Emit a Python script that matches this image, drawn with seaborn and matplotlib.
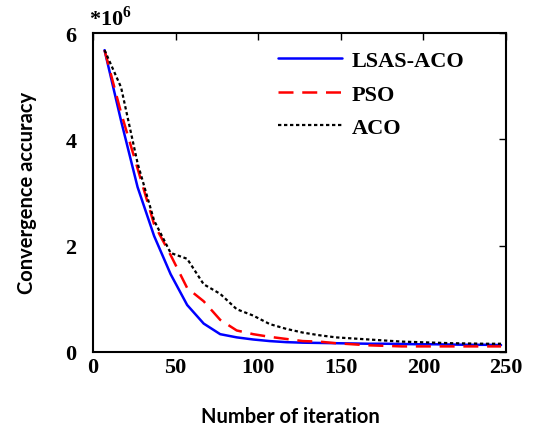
import matplotlib
matplotlib.use("Agg")
import matplotlib.pyplot as plt
import seaborn as sns
import pandas as pd

iterations = [7, 17, 27, 37, 47, 57, 67, 77, 87, 97, 107, 117, 127, 137, 147,
              157, 167, 177, 187, 197, 207, 217, 227, 237, 247]
lsas_aco = [5.68, 4.35, 3.10, 2.18, 1.46, 0.88, 0.53, 0.33, 0.27, 0.23, 0.20, 0.18,
            0.17, 0.165, 0.16, 0.155, 0.15, 0.15, 0.145, 0.14, 0.14, 0.135, 0.13, 0.13, 0.125]
pso = [5.68, 4.50, 3.45, 2.40, 1.82, 1.20, 0.95, 0.60, 0.40, 0.33, 0.28, 0.24,
       0.20, 0.19, 0.16, 0.14, 0.12, 0.11, 0.10, 0.10, 0.10, 0.10, 0.10, 0.10, 0.10]
aco = [5.68, 4.98, 3.55, 2.47, 1.86, 1.75, 1.27, 1.09, 0.80, 0.68, 0.52, 0.43,
       0.36, 0.31, 0.27, 0.25, 0.23, 0.21, 0.19, 0.18, 0.17, 0.16, 0.155, 0.15, 0.15]
series_names = ["LSAS-ACO", "PSO", "ACO"]
x_ticks = [0, 50, 100, 150, 200, 250]
y_ticks = [0, 2, 4, 6]

sns.set_style("white")
plt.rcParams["font.family"] = ["Liberation Serif", "DejaVu Serif"]
plt.rcParams["text.color"] = "black"
plt.rcParams["axes.labelcolor"] = "black"
plt.rcParams["mathtext.fontset"] = "custom"
plt.rcParams["mathtext.bf"] = "Liberation Serif:bold"
plt.rcParams["mathtext.rm"] = "Liberation Serif"

fig = plt.figure(figsize=(5.35, 4.27), dpi=100)
ax = fig.add_axes([0.1738, 0.174, 0.772, 0.746])

styles = [
    dict(color="#0000ff", linestyle="-", linewidth=1.8),
    dict(color="#ff0000", linestyle=(0, (6, 3.5)), linewidth=1.8),
    dict(color="black", linestyle=(0, (1.5, 1.2)), linewidth=1.6),
]
for name, vals, st in zip(series_names, [lsas_aco, pso, aco], styles):
    df = pd.DataFrame({"x": iterations, "y": vals})
    sns.lineplot(data=df, x="x", y="y", ax=ax, label=name, **st)

ax.set_xlim(0, 250)
ax.set_ylim(0, 6)
ax.set_xticks(x_ticks)
ax.set_yticks(y_ticks)
ax.set_xticklabels([str(t) for t in x_ticks], fontsize=16, fontweight="bold")
ax.set_yticklabels([str(t) for t in y_ticks], fontsize=16, fontweight="bold")
ax.tick_params(direction="in", length=5, width=1, top=True, right=True,
               colors="black", labelcolor="black")
ax.tick_params(axis="x", pad=4)
ax.tick_params(axis="y", pad=12)
for sp in ax.spines.values():
    sp.set_color("black")
    sp.set_linewidth(1.5)

ax.set_xlabel("Number of iteration", fontsize=14.5, fontweight="bold",
              family=["Lato", "DejaVu Sans"], labelpad=20.5)
ax.xaxis.label.set_x(0.477)
ax.set_ylabel("Convergence accuracy", fontsize=14.5, fontweight="bold",
              family=["Lato", "DejaVu Sans"], labelpad=20)

fig.text(0.166, 0.956, r"*10$^{\mathbf{6}}$", fontsize=16, fontweight="bold",
         ha="left", va="center")

leg = ax.legend(loc="upper left", bbox_to_anchor=(0.447, 0.945), frameon=False,
                borderaxespad=0, borderpad=0,
                prop={"family": "Liberation Serif", "weight": "bold", "size": 16},
                handlelength=2.9, handletextpad=0.45, labelspacing=0.58)
for t in leg.get_texts():
    t.set_color("black")

fig.savefig("out.png", dpi=100)
